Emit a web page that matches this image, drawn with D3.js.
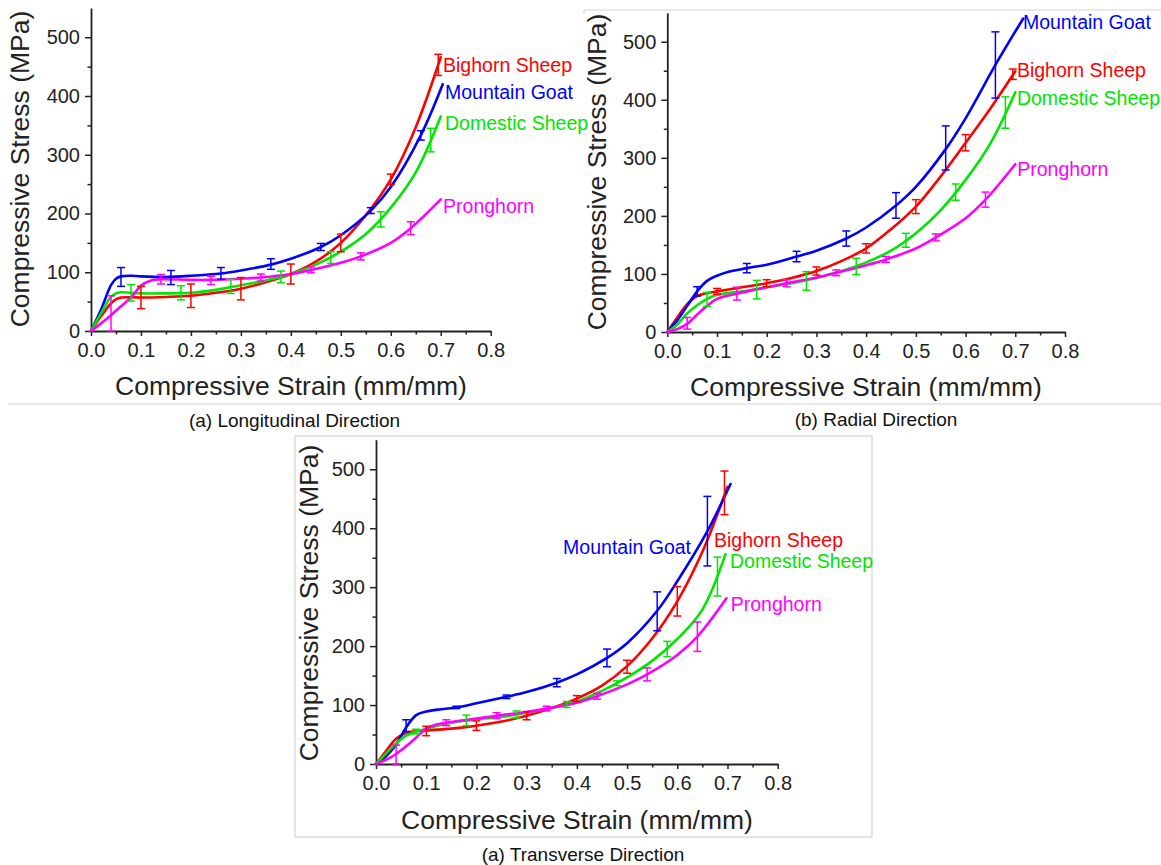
<!DOCTYPE html>
<html><head><meta charset="utf-8">
<script src="https://cdn.jsdelivr.net/npm/d3@7/dist/d3.min.js"></script>
<style>
html,body{margin:0;padding:0;background:#fff;}
svg{display:block;font-family:"Liberation Sans",Arial,Helvetica,sans-serif;}
</style></head><body>
<svg id="chart" width="1161" height="865"></svg>
<script>
// ---------------- DATA ----------------
const strainTicks = [0, 0.1, 0.2, 0.3, 0.4, 0.5, 0.6, 0.7, 0.8];
const strainMinorTicks = [0.05, 0.15, 0.25, 0.35, 0.45, 0.55, 0.65, 0.75];
const stressTicks = [0, 100, 200, 300, 400, 500];
const stressMinorTicks = [50, 150, 250, 350, 450];
const seriesNames = ["Bighorn Sheep", "Mountain Goat", "Domestic Sheep", "Pronghorn"];
const panelTitles = ["(a) Longitudinal Direction", "(b) Radial Direction", "(a) Transverse Direction"];
const xTitle = "Compressive Strain (mm/mm)";
const yTitle = "Compressive Stress (MPa)";

// [strain, stress] points of each fitted curve
const longBighorn = [[0,0],[0.02,25],[0.04,47],[0.05,54],[0.06,57],[0.08,57.5],[0.1,57],[0.15,58],[0.2,60],[0.25,65],[0.3,72],[0.35,83],[0.4,97],[0.45,118],[0.5,150],[0.55,197],[0.6,258],[0.65,347],[0.70,466]];
const longGoat = [[0,0],[0.02,36],[0.04,78],[0.05,89],[0.06,93],[0.08,94],[0.1,93],[0.15,92],[0.2,94],[0.26,98],[0.3,103],[0.36,113],[0.4,123],[0.46,143],[0.5,163],[0.56,205],[0.6,245],[0.66,333],[0.704,420]];
const longDomestic = [[0,0],[0.02,30],[0.04,58],[0.05,64],[0.06,66],[0.08,65],[0.1,64],[0.15,64],[0.2,65],[0.25,70],[0.3,78],[0.35,86],[0.4,97],[0.45,113],[0.5,135],[0.55,165],[0.6,210],[0.65,270],[0.70,365]];
const longPronghorn = [[0,0],[0.02,13],[0.04,27],[0.06,42],[0.08,57],[0.1,77],[0.12,86],[0.14,88],[0.2,87],[0.24,87],[0.3,89],[0.34,91],[0.4,97],[0.44,104],[0.5,116],[0.54,127],[0.6,150],[0.64,175],[0.70,224]];

const radBighorn = [[0,0],[0.02,25],[0.04,48],[0.06,62],[0.08,67],[0.1,70],[0.15,77],[0.2,84],[0.25,93],[0.3,105],[0.35,122],[0.4,144],[0.45,177],[0.5,216],[0.55,268],[0.6,326],[0.65,385],[0.70,449]];
const radGoat = [[0,0],[0.02,20],[0.04,45],[0.06,70],[0.08,88],[0.1,97],[0.12,103],[0.16,110],[0.2,116],[0.26,130],[0.3,140],[0.36,161],[0.4,180],[0.46,218],[0.5,250],[0.56,315],[0.6,368],[0.66,460],[0.716,540]];
const radDomestic = [[0,0],[0.02,13],[0.04,32],[0.06,46],[0.08,57],[0.1,64],[0.12,67],[0.15,70],[0.2,77],[0.25,84],[0.3,93],[0.35,105],[0.4,120],[0.45,140],[0.5,170],[0.55,210],[0.6,262],[0.65,325],[0.70,413]];
const radPronghorn = [[0,0],[0.02,5],[0.04,14],[0.06,30],[0.08,45],[0.1,57],[0.14,66],[0.2,77],[0.24,84],[0.3,94],[0.34,102],[0.4,115],[0.44,125],[0.5,144],[0.54,163],[0.6,196],[0.64,228],[0.70,289]];

const transBighorn = [[0,0],[0.02,22],[0.04,43],[0.06,53],[0.08,56],[0.1,57],[0.15,60],[0.2,65],[0.25,72],[0.3,82],[0.35,95],[0.4,111],[0.45,133],[0.5,166],[0.55,213],[0.6,276],[0.65,360],[0.70,470]];
const transGoat = [[0,0],[0.02,13],[0.04,33],[0.06,62],[0.08,83],[0.1,89],[0.13,93],[0.16,96],[0.2,103],[0.26,114],[0.3,122],[0.36,138],[0.4,152],[0.46,180],[0.5,205],[0.56,260],[0.6,310],[0.66,395],[0.706,475]];
const transDomestic = [[0,0],[0.02,18],[0.04,35],[0.06,48],[0.08,55],[0.1,60],[0.15,70],[0.2,76],[0.25,80],[0.3,87],[0.35,95],[0.4,106],[0.45,124],[0.5,147],[0.55,175],[0.6,212],[0.65,262],[0.696,356]];
const transPronghorn = [[0,0],[0.02,7],[0.04,17],[0.06,30],[0.08,45],[0.1,60],[0.12,67],[0.14,70],[0.2,77],[0.24,82],[0.3,88],[0.34,94],[0.4,104],[0.44,115],[0.5,135],[0.54,152],[0.6,185],[0.64,216],[0.698,281]];

// [strain, mean stress, +/- deviation] of error bars
const longBighornErr = [[0.1,57,19],[0.2,60,20],[0.3,72,19],[0.4,97,17],[0.5,150,15],[0.6,258,9],[0.695,453,18]];
const longGoatErr = [[0.06,92,16],[0.16,91,12],[0.26,98,10],[0.36,114,9],[0.46,143,6],[0.56,205,5],[0.66,333,8]];
const longDomesticErr = [[0.08,65,14],[0.18,65,12],[0.28,76,12],[0.38,92,10],[0.48,125,10],[0.58,190,13],[0.68,325,20]];
const longPronghornErr = [[0.04,30,30],[0.14,88,8],[0.24,86,7],[0.34,91,6],[0.44,104,5],[0.54,127,6],[0.64,175,11]];

const radBighornErr = [[0.1,70,5],[0.2,84,6],[0.3,105,7],[0.4,144,8],[0.5,216,12],[0.6,326,14],[0.695,444,9]];
const radGoatErr = [[0.06,70,8],[0.16,110,8],[0.26,130,9],[0.36,161,13],[0.46,218,22],[0.56,317,38],[0.66,460,57]];
const radDomesticErr = [[0.08,56,12],[0.18,73,16],[0.28,88,16],[0.38,113,14],[0.48,158,12],[0.58,241,14],[0.68,378,27]];
const radPronghornErr = [[0.04,15,10],[0.14,66,11],[0.24,84,6],[0.34,102,5],[0.44,125,5],[0.54,163,6],[0.64,228,13]];

const transBighornErr = [[0.1,56,8],[0.2,65,8],[0.3,82,7],[0.4,111,5],[0.5,165,11],[0.6,276,25],[0.694,460,37]];
const transGoatErr = [[0.06,65,10],[0.16,96,2],[0.26,114,3],[0.36,138,7],[0.46,180,15],[0.56,259,33],[0.66,395,59]];
const transDomesticErr = [[0.08,55,4],[0.18,74,9],[0.28,84,6],[0.38,101,5],[0.48,137,4],[0.58,195,13],[0.68,318,33]];
const transPronghornErr = [[0.04,16,16],[0.14,70,5],[0.24,82,5],[0.34,94,4],[0.44,115,5],[0.54,152,11],[0.64,216,25]];

// ---------------- LAYOUT / STYLE ----------------
const colors = ["#ff0000", "#0000ff", "#00e600", "#ff00ff"];
const panels = [
  { title: panelTitles[0], xr: [91, 490.7], yr: [331, 7.9], xAxisY: 331,
    curves: [longBighorn, longGoat, longDomestic, longPronghorn],
    errs: [longBighornErr, longGoatErr, longDomesticErr, longPronghornErr],
    labels: [[0.7046, 440.7, "start"], [0.7086, 394.7, "start"], [0.7086, 341.9, "start"], [0.7046, 200.5, "start"]],
    xTitlePos: [291, 395], yTitlePos: [29, 169], subPos: [294.5, 427] },
  { title: panelTitles[1], xr: [667.3, 1065], yr: [332, 12.7], xAxisY: 332,
    curves: [radBighorn, radGoat, radDomestic, radPronghorn],
    errs: [radBighornErr, radGoatErr, radDomesticErr, radPronghornErr],
    labels: [[0.7033, 439.6, "start"], [0.7154, 521.3, "start"], [0.7033, 390.8, "start"], [0.704, 268.8, "start"]],
    xTitlePos: [866, 396], yTitlePos: [606, 172], subPos: [876, 426] },
  { title: panelTitles[2], xr: [376, 777.7], yr: [764, 439.8], xAxisY: 764,
    curves: [transBighorn, transGoat, transDomestic, transPronghorn],
    errs: [transBighornErr, transGoatErr, transDomesticErr, transPronghornErr],
    labels: [[0.6732, 368, "start"], [0.6274, 356, "end"], [0.705, 333.3, "start"], [0.7064, 260.3, "start"]],
    xTitlePos: [577, 829], yTitlePos: [318, 603], subPos: [583, 861] }
];

const svg = d3.select("#chart");
const axisColor = "#222";

// frame lines
const frame = svg.append("g").attr("stroke", "#d2d2d2").attr("stroke-width", 1.2).attr("fill", "none");
frame.append("line").attr("x1", 8).attr("x2", 1161).attr("y1", 404).attr("y2", 404);
frame.append("line").attr("x1", 584).attr("x2", 1161).attr("y1", 10).attr("y2", 10);
frame.append("line").attr("x1", 584).attr("x2", 584).attr("y1", 10).attr("y2", 14);
frame.append("rect").attr("x", 295).attr("y", 436).attr("width", 577).attr("height", 401);

panels.forEach(p => {
  const x = d3.scaleLinear().domain([0, 0.8]).range(p.xr);
  const y = d3.scaleLinear().domain([0, 550]).range(p.yr);
  const g = svg.append("g");

  // axes
  g.append("g").attr("transform", `translate(0,${p.xAxisY})`)
    .call(d3.axisBottom(x).tickValues(strainTicks).tickFormat(d3.format(".1f")).tickSize(5).tickPadding(7).tickSizeOuter(0));
  g.append("g").attr("transform", `translate(0,${p.xAxisY})`)
    .call(d3.axisBottom(x).tickValues(strainMinorTicks).tickFormat("").tickSize(3.5).tickSizeOuter(0))
    .select(".domain").remove();
  g.append("g").attr("transform", `translate(${p.xr[0]},0)`)
    .call(d3.axisLeft(y).tickValues(stressTicks).tickFormat(d3.format("d")).tickSize(6).tickPadding(5).tickSizeOuter(0));
  g.append("g").attr("transform", `translate(${p.xr[0]},0)`)
    .call(d3.axisLeft(y).tickValues(stressMinorTicks).tickFormat("").tickSize(3.5).tickSizeOuter(0))
    .select(".domain").remove();
  g.selectAll(".domain").attr("stroke", axisColor).attr("stroke-width", 1.8);
  g.selectAll(".tick line").attr("stroke", axisColor).attr("stroke-width", 1.5);
  g.selectAll(".tick text").attr("fill", axisColor).style("font-size", "20px")
    .style("font-family", '"Liberation Sans",Arial,sans-serif');

  // curves
  const line = d3.line().x(d => x(d[0])).y(d => y(d[1])).curve(d3.curveCatmullRom.alpha(0.5));
  p.curves.forEach((c, i) => {
    g.append("path").datum(c).attr("d", line).attr("fill", "none")
      .attr("stroke", colors[i]).attr("stroke-width", 2.6).attr("stroke-linejoin", "round").attr("stroke-linecap", "round");
  });

  // error bars
  p.errs.forEach((e, i) => {
    const eg = g.append("g").attr("stroke", colors[i]).attr("stroke-width", 1.5);
    e.forEach(d => {
      const cx = x(d[0]), y1 = y(d[1] - d[2]), y2 = y(d[1] + d[2]);
      eg.append("line").attr("x1", cx).attr("x2", cx).attr("y1", y1).attr("y2", y2);
      eg.append("line").attr("x1", cx - 4).attr("x2", cx + 4).attr("y1", y1).attr("y2", y1);
      eg.append("line").attr("x1", cx - 4).attr("x2", cx + 4).attr("y1", y2).attr("y2", y2);
    });
  });

  // series labels
  p.labels.forEach((l, i) => {
    g.append("text").attr("x", x(l[0])).attr("y", y(l[1])).attr("text-anchor", l[2])
      .attr("fill", colors[i]).style("font-size", "19.5px").text(seriesNames[i]);
  });

  // titles
  g.append("text").attr("x", p.xTitlePos[0]).attr("y", p.xTitlePos[1]).attr("text-anchor", "middle")
    .attr("fill", axisColor).style("font-size", "26.5px").text(xTitle);
  g.append("text").attr("transform", `translate(${p.yTitlePos[0]},${p.yTitlePos[1]}) rotate(-90)`)
    .attr("text-anchor", "middle").attr("fill", axisColor).style("font-size", "26.5px").text(yTitle);
  g.append("text").attr("x", p.subPos[0]).attr("y", p.subPos[1]).attr("text-anchor", "middle")
    .attr("fill", "#111").style("font-size", "19px").text(p.title);
});
</script>
</body></html>
